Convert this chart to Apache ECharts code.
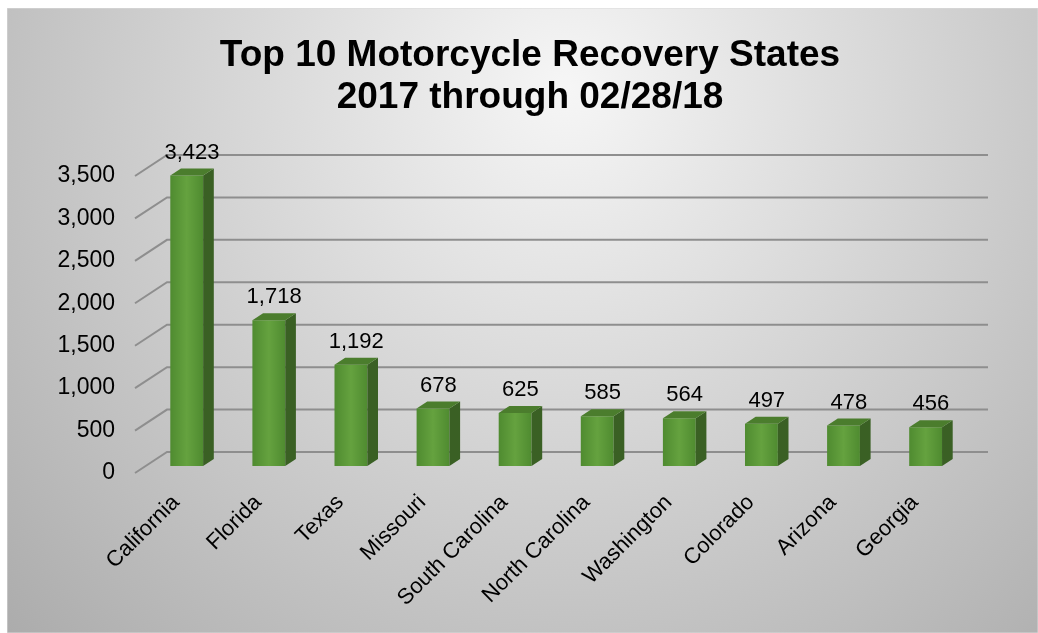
<!DOCTYPE html>
<html>
<head>
<meta charset="utf-8">
<script src="https://cdn.jsdelivr.net/npm/echarts@6/dist/echarts.min.js"></script>
<style>
  html, body { margin: 0; padding: 0; background: #fff; }
  #chart { position: absolute; left: 7px; top: 8px; width: 1031px; height: 625px; }
</style>
</head>
<body>
<div id="chart"></div>
<script>
var states = ['California', 'Florida', 'Texas', 'Missouri', 'South Carolina', 'North Carolina', 'Washington', 'Colorado', 'Arizona', 'Georgia']
var recoveries = [3423, 1718, 1192, 678, 625, 585, 564, 497, 478, 456]
var yTicks = [0, 500, 1000, 1500, 2000, 2500, 3000, 3500]

// depth of the fake 3d box (back wall offset)
var DX = 32
var DY = -21

var fmt = function (v) { return Number(v).toLocaleString('en-US') }

var chart = echarts.init(document.getElementById('chart'))

chart.setOption({
  animation: false,
  graphic: [{
    type: 'rect',
    z: -10,
    silent: true,
    shape: { x: 0, y: 0, width: 1031, height: 625 },
    style: {
      fill: {
        type: 'radial', x: 560, y: 80, r: 820, global: true,
        colorStops: [{ offset: 0, color: '#f6f6f6' }, { offset: 1, color: '#a8a8a8' }]
      },
      stroke: '#d9d9d9',
      lineWidth: 1
    }
  }],
  title: {
    text: 'Top 10 Motorcycle Recovery States\n2017 through 02/28/18',
    left: 518,
    top: 22,
    textAlign: 'center',
    textStyle: {
      fontFamily: 'Liberation Sans, Arial, sans-serif',
      fontSize: 37,
      fontWeight: 'bold',
      color: '#000',
      lineHeight: 42
    }
  },
  grid: { left: 128, top: 168, width: 821, height: 297 },
  xAxis: {
    type: 'category',
    data: states,
    axisLine: { show: false },
    axisTick: { show: false },
    axisLabel: {
      rotate: 45,
      margin: 26,
      interval: 0,
      fontFamily: 'Liberation Sans, Arial, sans-serif',
      fontSize: 22,
      color: '#000'
    }
  },
  yAxis: {
    type: 'value',
    min: 0,
    max: 3500,
    interval: 500,
    axisLine: { show: false },
    axisTick: { show: false },
    splitLine: { show: false },
    axisLabel: {
      margin: 20,
      formatter: fmt,
      fontFamily: 'Liberation Sans, Arial, sans-serif',
      fontSize: 23,
      color: '#000'
    }
  },
  series: [
    {
      type: 'custom',
      name: 'grid',
      silent: true,
      z: 1,
      data: yTicks.map(function (v) { return [0, v] }),
      encode: { x: 0, y: 1 },
      renderItem: function (params, api) {
        var cs = params.coordSys
        var y = api.coord([0, api.value(1)])[1]
        return {
          type: 'polyline',
          shape: { points: [[cs.x, y], [cs.x + DX, y + DY], [cs.x + cs.width + DX, y + DY]] },
          style: { stroke: '#8e8e8e', lineWidth: 2, fill: null }
        }
      }
    },
    {
      type: 'custom',
      name: 'Recoveries',
      z: 2,
      data: recoveries.map(function (v, i) { return [i, v] }),
      encode: { x: 0, y: 1 },
      renderItem: function (params, api) {
        var i = api.value(0)
        var v = api.value(1)
        var p0 = api.coord([i, 0])
        var p1 = api.coord([i, v])
        var w = api.size([1, 0])[0] * 0.4
        var ox = DX / 3
        var oy = DY / 3
        var cx = p0[0] + ox
        var xl = cx - w / 2
        var xr = cx + w / 2
        var yb = p0[1] + oy
        var yt = p1[1] + oy
        return {
          type: 'group',
          children: [
            {
              type: 'rect',
              shape: { x: xl, y: yt, width: w, height: yb - yt },
              style: {
                fill: {
                  type: 'linear', x: 0, y: 0, x2: 1, y2: 0,
                  colorStops: [
                    { offset: 0, color: '#4f8b30' },
                    { offset: 0.5, color: '#65a23f' },
                    { offset: 1, color: '#4f8b30' }
                  ]
                }
              }
            },
            {
              type: 'polygon',
              shape: { points: [[xr, yb], [xr, yt], [xr + ox, yt + oy], [xr + ox, yb + oy]] },
              style: { fill: '#3a6024' }
            },
            {
              type: 'polygon',
              shape: { points: [[xl, yt], [xr, yt], [xr + ox, yt + oy], [xl + ox, yt + oy]] },
              style: { fill: '#4b7d2d' }
            },
            {
              type: 'text',
              style: {
                text: fmt(v),
                x: cx + ox / 2,
                y: yt + oy - 5,
                align: 'center',
                verticalAlign: 'bottom',
                font: '22px "Liberation Sans", Arial, sans-serif',
                fill: '#000'
              }
            }
          ]
        }
      }
    }
  ]
})
</script>
</body>
</html>
